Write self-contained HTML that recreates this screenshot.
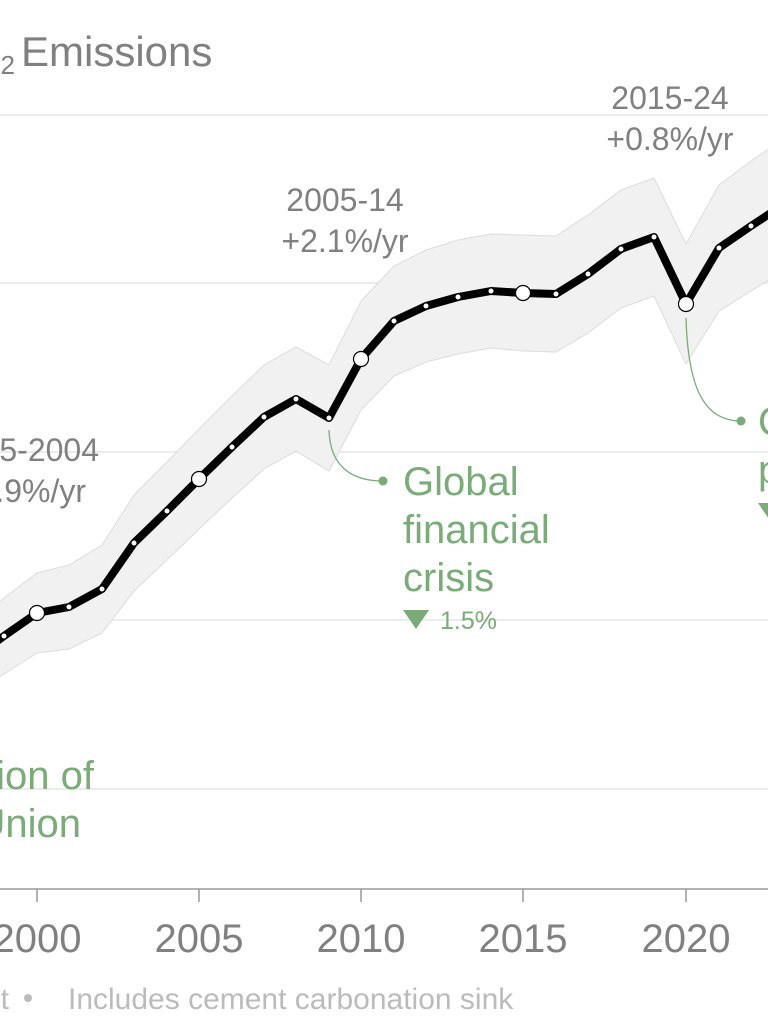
<!DOCTYPE html>
<html><head><meta charset="utf-8"><style>
html,body{margin:0;padding:0;background:#fff;}
svg{display:block;font-family:"Liberation Sans",Arial,sans-serif;}
</style></head><body>
<svg width="768" height="1023" viewBox="0 0 768 1023" xmlns="http://www.w3.org/2000/svg">
<text x="21" y="66" font-size="42" fill="#808080">Emissions</text>
<text x="15" y="66" font-size="42" fill="#808080" text-anchor="end">CO<tspan font-size="26" dy="8">2</tspan></text>
<g stroke="#e6e6e6" stroke-width="1.5">
<line x1="0" y1="115" x2="768" y2="115"/>
<line x1="0" y1="283" x2="768" y2="283"/>
<line x1="0" y1="452" x2="768" y2="452"/>
<line x1="0" y1="620" x2="768" y2="620"/>
<line x1="0" y1="789" x2="768" y2="789"/>
</g>
<polygon fill="#f1f1f1" stroke="#dcdcdc" stroke-width="1" points="-29,624 4,598 37,573 69,565 102,545 134,495 167,462 199,429 232,396 264,365 296,347 329,365 361,301 394,266 426,250 458,240 491,234 523,235 556,236 588,215 621,190 654,178 686,244 719,185 751,161 783,139 783,271 751,291 719,311 686,364 654,296 621,308 588,333 556,352 523,351 491,348 458,354 426,362 394,376 361,410 329,471 296,451 264,469 232,498 199,529 167,560 134,591 102,633 69,649 37,653 4,674 -29,696"/>
<polyline fill="none" stroke="#000" stroke-width="8" stroke-linejoin="round" points="-29,660 4,636 37,613 69,607 102,589 134,543 167,511 199,479 232,447 264,417 296,399 329,418 361,359 394,321 426,306 458,297 491,291 523,293 556,294 588,274 621,249 654,237 686,304 719,248 751,226 783,205"/>
<g fill="#fff">
<circle cx="4" cy="636" r="2.5"/><circle cx="69" cy="607" r="2.5"/><circle cx="102" cy="589" r="2.5"/><circle cx="134" cy="543" r="2.5"/><circle cx="167" cy="511" r="2.5"/><circle cx="232" cy="447" r="2.5"/><circle cx="264" cy="417" r="2.5"/><circle cx="296" cy="399" r="2.5"/><circle cx="329" cy="418" r="2.5"/><circle cx="394" cy="321" r="2.5"/><circle cx="426" cy="306" r="2.5"/><circle cx="458" cy="297" r="2.5"/><circle cx="491" cy="291" r="2.5"/><circle cx="556" cy="294" r="2.5"/><circle cx="588" cy="274" r="2.5"/><circle cx="621" cy="249" r="2.5"/><circle cx="654" cy="237" r="2.5"/><circle cx="719" cy="248" r="2.5"/><circle cx="751" cy="226" r="2.5"/>
</g>
<g fill="#fff" stroke="#000" stroke-width="1.2">
<circle cx="37" cy="613" r="7.5"/><circle cx="199" cy="479" r="7.5"/><circle cx="361" cy="359" r="7.5"/><circle cx="523" cy="293" r="7.5"/><circle cx="686" cy="304" r="7.5"/>
</g>
<g fill="none" stroke="#7aab78" stroke-width="1.3">
<path d="M329,430 C330,465 350,481 383,481"/>
<path d="M686,318 C688,390 705,421 741,421"/>
</g>
<circle cx="383" cy="481" r="4.5" fill="#7aab78"/>
<circle cx="741" cy="421" r="4.5" fill="#7aab78"/>
<g fill="#7aab78" font-size="40">
<text x="403" y="495">Global</text>
<text x="403" y="543">financial</text>
<text x="403" y="591">crisis</text>
<text x="758" y="435">COVID-19</text>
<text x="758" y="483">pandemic</text>
<text x="94" y="789" text-anchor="end">Dissolution of</text>
<text x="81" y="837" text-anchor="end">Soviet Union</text>
</g>
<polygon points="403,610 429,610 416,629" fill="#7aab78"/>
<polygon points="758,503 784,503 771,522" fill="#7aab78"/>
<text x="440" y="629" font-size="25" fill="#7aab78">1.5%</text>
<g fill="#808080" font-size="32" text-anchor="middle">
<text x="670" y="109">2015-24</text>
<text x="670" y="150">+0.8%/yr</text>
<text x="345" y="211">2005-14</text>
<text x="345" y="252">+2.1%/yr</text>
</g>
<g fill="#808080" font-size="32" text-anchor="end">
<text x="99" y="461">1995-2004</text>
<text x="86" y="502">+1.9%/yr</text>
</g>
<line x1="0" y1="889" x2="768" y2="889" stroke="#999" stroke-width="1.5"/>
<g stroke="#999" stroke-width="1.5">
<line x1="37" y1="889" x2="37" y2="902"/><line x1="199" y1="889" x2="199" y2="902"/><line x1="361" y1="889" x2="361" y2="902"/><line x1="523" y1="889" x2="523" y2="902"/><line x1="686" y1="889" x2="686" y2="902"/>
</g>
<g fill="#808080" font-size="40" text-anchor="middle">
<text x="37" y="952">2000</text><text x="199" y="952">2005</text><text x="361" y="952">2010</text><text x="523" y="952">2015</text><text x="686" y="952">2020</text>
</g>
<text x="9" y="1009" font-size="30" fill="#bbb" text-anchor="end">Direct</text>
<circle cx="28" cy="998" r="4" fill="#bbb"/>
<text x="68" y="1009" font-size="30" fill="#bbb">Includes cement carbonation sink</text>
</svg>
</body></html>
